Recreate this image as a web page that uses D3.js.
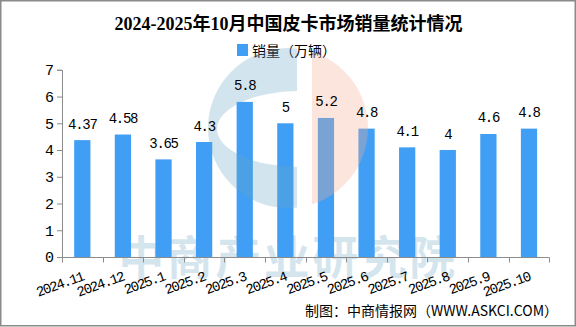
<!DOCTYPE html>
<html><head><meta charset="utf-8">
<script src="https://cdn.jsdelivr.net/npm/d3@7"></script>
<style>html,body{margin:0;padding:0;background:#fff}svg{display:block}</style>
</head><body>
<svg id="c" width="576" height="327"></svg>
<script>
const title = "2024-2025年10月中国皮卡市场销量统计情况";
const seriesName = "销量（万辆）";
const categories = ["2024.11","2024.12","2025.1","2025.2","2025.3","2025.4","2025.5","2025.6","2025.7","2025.8","2025.9","2025.10"];
const values = [4.37, 4.58, 3.65, 4.3, 5.8, 5, 5.2, 4.8, 4.1, 4, 4.6, 4.8];
const yTicks = [0,1,2,3,4,5,6,7];
const source = "制图：中商情报网（WWW.ASKCI.COM）";
const watermark = "中商产业研究院";

const svg = d3.select("#c");
const numFont = "'Liberation Mono',monospace";
const cjkFont = "'Liberation Serif','Noto Sans CJK SC',sans-serif";
const barColor = "#409ef4";
const axisColor = "#8c8c8c";

const x = d3.scaleBand().domain(categories).range([62, 549.3]).paddingInner(0.6).paddingOuter(0.3);
const y = d3.scaleLinear().domain([0, 7]).range([257, 69.8]);

// border
svg.append("rect").attr("x",0.75).attr("y",0.75).attr("width",574.5).attr("height",325)
  .attr("fill","none").attr("stroke","#8a8a8a").attr("stroke-width",1.5);

// title
svg.append("text").attr("x",288.5).attr("y",30).attr("text-anchor","middle")
  .attr("font-family",cjkFont).attr("font-weight","bold").attr("font-size",18).attr("fill","#000").text(title);

// legend
svg.append("rect").attr("x",237).attr("y",44).attr("width",11).attr("height",12).attr("fill",barColor);
svg.append("text").attr("x",252).attr("y",55.5).attr("font-family","'Noto Sans CJK SC',sans-serif")
  .attr("font-size",14).attr("fill","#000").text(seriesName);

// watermark text (under bars)
svg.append("text").attr("x",288).attr("y",274).attr("text-anchor","middle")
  .attr("font-family","'Noto Sans CJK SC',sans-serif").attr("font-weight","bold").attr("font-size",46)
  .attr("letter-spacing",2.5).attr("fill","rgb(105,165,198)").attr("fill-opacity",0.28).text(watermark);

// bars
svg.append("g").selectAll("rect").data(values).join("rect")
  .attr("x",(d,i)=>x(categories[i])).attr("width",x.bandwidth())
  .attr("y",d=>y(d)).attr("height",d=>y(0)-y(d)).attr("fill",barColor);

// logo watermark (over bars)
const cx = 288, cy = 128, r = 80;
const defs = svg.append("defs");
defs.append("clipPath").attr("id","leftclip").append("rect").attr("x",cx-r-2).attr("y",cy-r-2).attr("width",297-(cx-r-2)).attr("height",2*r+4);
defs.append("clipPath").attr("id","rightclip").append("rect").attr("x",312).attr("y",cy-r-2).attr("width",cx+r+2-312).attr("height",2*r+4);
const mask = defs.append("mask").attr("id","hollow");
mask.append("rect").attr("x",0).attr("y",0).attr("width",576).attr("height",327).attr("fill","#fff");
mask.append("ellipse").attr("cx",300).attr("cy",129).attr("rx",83).attr("ry",38).attr("fill","#000");
svg.append("circle").attr("cx",cx).attr("cy",cy).attr("r",r)
  .attr("clip-path","url(#leftclip)").attr("mask","url(#hollow)")
  .attr("fill","rgb(105,165,198)").attr("fill-opacity",0.3);
svg.append("circle").attr("cx",cx).attr("cy",cy).attr("r",r)
  .attr("clip-path","url(#rightclip)")
  .attr("fill","rgb(245,175,150)").attr("fill-opacity",0.32);

// value labels
svg.append("g").selectAll("text").data(values).join("text")
  .attr("x",(d,i)=>x(categories[i])+x.bandwidth()/2).attr("y",d=>y(d)-11.5)
  .attr("text-anchor","middle").attr("font-family",numFont).attr("font-size",14)
  .attr("letter-spacing",-1.3).attr("fill","#000")
  .text(d=>String(d));

// y axis
const yAxis = svg.append("g").attr("transform","translate(62,0)")
  .call(d3.axisLeft(y).tickValues(yTicks).tickSize(5).tickPadding(3).tickFormat(d3.format("d")));
yAxis.selectAll("path,line").attr("stroke",axisColor);
yAxis.selectAll("text").attr("font-family",numFont).attr("font-size",15).attr("fill","#000");

// x axis line and boundary ticks
const step = x.step();
const x0 = 62;
svg.append("line").attr("x1",62).attr("x2",549.3).attr("y1",257.5).attr("y2",257.5).attr("stroke",axisColor);
svg.append("g").selectAll("line").data(d3.range(categories.length+1)).join("line")
  .attr("x1",i=>Math.round(x0+i*step)+0.5).attr("x2",i=>Math.round(x0+i*step)+0.5)
  .attr("y1",257.5).attr("y2",262.5).attr("stroke",axisColor);

// x labels
svg.append("g").selectAll("text").data(categories).join("text")
  .attr("transform",d=>`translate(${x(d)+x.bandwidth()/2+2},280) rotate(-20)`)
  .attr("text-anchor","end").attr("font-family",numFont).attr("font-size",14)
  .attr("letter-spacing",-1.4).attr("fill","#000")
  .text(d=>d);

// source
svg.append("text").attr("x",305).attr("y",315.5).attr("font-family","'Noto Sans CJK SC',sans-serif")
  .attr("font-size",14).attr("fill","#000").text(source);
</script>
</body></html>
